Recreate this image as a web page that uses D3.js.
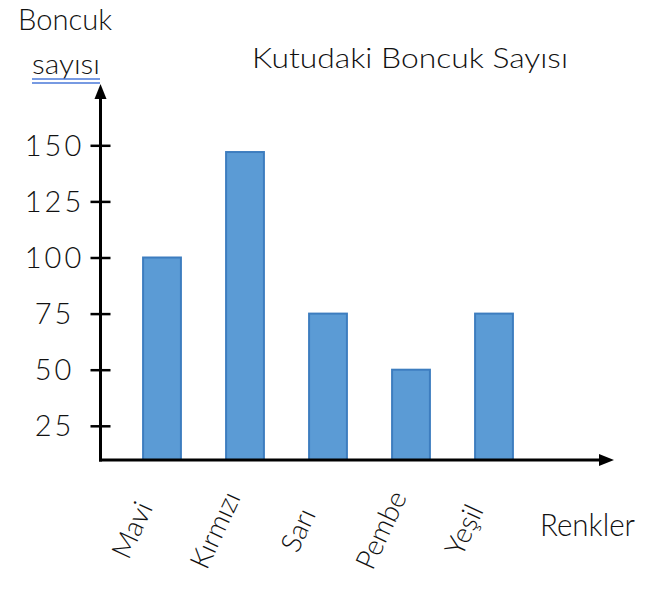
<!DOCTYPE html>
<html>
<head>
<meta charset="utf-8">
<script src="https://cdn.jsdelivr.net/npm/d3@7"></script>
<style>
  html, body { margin: 0; padding: 0; background: #fff; }
  svg { display: block; font-family: "Lato", "Noto Sans", sans-serif; }
  svg text { font-weight: 300; }
</style>
</head>
<body>
<svg id="chart" width="661" height="589"></svg>
<script>
// ---- data ----
const categories = ["Mavi", "Kırmızı", "Sarı", "Pembe", "Yeşil"];
const values = [100, 147, 75, 50, 75];
const yTicks = [25, 50, 75, 100, 125, 150];
const yTickLabels = ["25", "50", "75", "100", "125", "150"];
const title = "Kutudaki Boncuk Sayısı";
const yTitle = ["Boncuk", "sayısı"];
const xTitle = "Renkler";

// ---- layout ----
const svg = d3.select("#chart");
const axisX = 100.5, axisY = 460;
const yTop = 84, xRight = 614;

const y = d3.scaleLinear().domain([0, 150]).range([481.9, 145.3]);
const x = d3.scaleBand().domain(categories).range([120.5, 535.5])
  .paddingInner(0.52).paddingOuter(0.26);

// bars
svg.append("g").selectAll("rect").data(categories).join("rect")
  .attr("x", d => x(d) + 1)
  .attr("width", x.bandwidth() - 2)
  .attr("y", (d, i) => y(values[i]))
  .attr("height", (d, i) => axisY - y(values[i]))
  .attr("fill", "#5b9bd5")
  .attr("stroke", "#3d7dbf")
  .attr("stroke-width", 2);

// y axis ticks
const yAxis = d3.axisLeft(y).tickValues(yTicks).tickSize(10)
  .tickFormat((d, i) => yTickLabels[i]);
const gy = svg.append("g").attr("transform", `translate(${axisX},0)`).call(yAxis);
gy.select(".domain").remove();
gy.selectAll(".tick line").attr("x1", -10).attr("x2", 10)
  .attr("stroke", "#000").attr("stroke-width", 2.5);
gy.selectAll(".tick text")
  .attr("x", -46).attr("dy", "0.35em")
  .attr("text-anchor", "middle")
  .attr("font-size", 29).attr("fill", "#111")
  .attr("font-family", "Lato, 'Noto Sans', sans-serif")
  .attr("letter-spacing", 3);

// axis lines
svg.append("line").attr("x1", axisX).attr("x2", axisX).attr("y1", axisY + 1.5).attr("y2", yTop + 12)
  .attr("stroke", "#000").attr("stroke-width", 3);
svg.append("line").attr("x1", axisX - 1.5).attr("x2", xRight - 12).attr("y1", axisY).attr("y2", axisY)
  .attr("stroke", "#000").attr("stroke-width", 3);
// arrowheads
svg.append("path")
  .attr("d", `M${axisX},${yTop} L${axisX + 6},${yTop + 15} L${axisX - 6},${yTop + 15} Z`)
  .attr("fill", "#000");
svg.append("path")
  .attr("d", `M${xRight},${axisY} L${xRight - 15},${axisY - 6} L${xRight - 15},${axisY + 6} Z`)
  .attr("fill", "#000");

// x category labels (rotated)
svg.append("g").selectAll("text").data(categories).join("text")
  .attr("transform", d => `translate(${x(d) + x.bandwidth() / 2 - 30},530) rotate(-65)`)
  .attr("text-anchor", "middle").attr("dy", "0.35em")
  .attr("font-size", 28).attr("fill", "#111")
  .text(d => d);

// titles
svg.append("text").attr("x", 252).attr("y", 68)
  .attr("font-size", 28).attr("fill", "#111")
  .attr("textLength", 316).attr("lengthAdjust", "spacingAndGlyphs")
  .text(title);

svg.append("text").attr("x", 18).attr("y", 30)
  .attr("font-size", 30).attr("fill", "#111")
  .attr("textLength", 94).attr("lengthAdjust", "spacingAndGlyphs")
  .text(yTitle[0]);
svg.append("text").attr("x", 32).attr("y", 74)
  .attr("font-size", 28).attr("fill", "#111")
  .attr("textLength", 68).attr("lengthAdjust", "spacingAndGlyphs")
  .text(yTitle[1]);
// double underline (spell-check style)
[79, 83].forEach(yy => {
  svg.append("line").attr("x1", 32).attr("x2", 100).attr("y1", yy).attr("y2", yy)
    .attr("stroke", "#4a78d8").attr("stroke-width", 1.3);
});

svg.append("text").attr("x", 540).attr("y", 536)
  .attr("font-size", 32).attr("fill", "#111")
  .attr("textLength", 95).attr("lengthAdjust", "spacingAndGlyphs")
  .text(xTitle);
</script>
</body>
</html>
